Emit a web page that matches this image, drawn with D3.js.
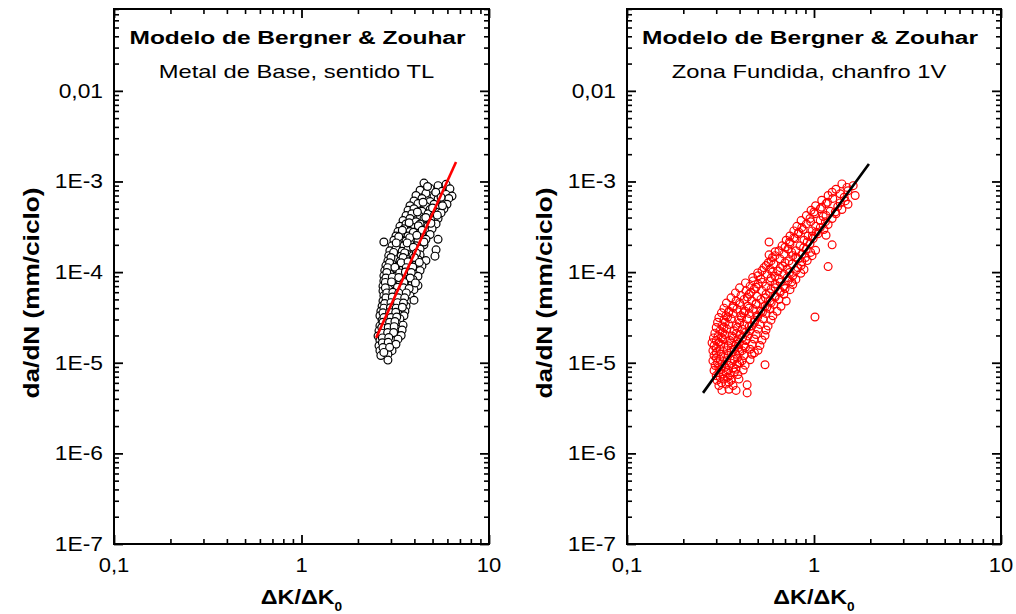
<!DOCTYPE html>
<html>
<head>
<meta charset="utf-8">
<script src="https://cdn.jsdelivr.net/npm/d3@7"></script>
<style>
  body { margin: 0; background: #fff; }
  svg text { font-family: "Liberation Sans", Arial, sans-serif; fill: #000; }
</style>
</head>
<body>
<svg id="chart" width="1016" height="614"></svg>
<script>
// axis ticks and labels
const xTickValues = [0.1, 1, 10];
const xTickLabels = ['0,1', '1', '10'];
const yTickValues = [1e-7, 1e-6, 1e-5, 1e-4, 1e-3, 1e-2];
const yTickLabels = ['1E-7', '1E-6', '1E-5', '1E-4', '1E-3', '0,01'];
const minorMultiples = [2, 3, 4, 5, 6, 7, 8, 9];

// left panel: Metal de Base, sentido TL  [dK/dK0, da/dN]
const baseMetalPoints = [
  [4.50,9.6e-4],[5.35,9.0e-4],[5.90,9.3e-4],
  [4.29,8.0e-4],[4.85,8.4e-4],[5.62,7.8e-4],[6.19,8.3e-4],
  [4.08,7.0e-4],[4.61,7.4e-4],[5.09,6.8e-4],[5.90,7.2e-4],[6.35,6.9e-4],
  [3.98,6.1e-4],[4.39,6.5e-4],[4.85,6.0e-4],[5.35,6.4e-4],[5.75,6.1e-4],[6.10,6.5e-4],
  [3.79,5.4e-4],[4.18,5.7e-4],[4.61,5.3e-4],[5.09,5.6e-4],[5.48,5.2e-4],[5.97,5.6e-4],
  [3.70,4.8e-4],[3.98,5.0e-4],[4.39,4.7e-4],[4.85,4.9e-4],[5.22,4.6e-4],[5.75,5.0e-4],
  [3.61,4.2e-4],[3.88,4.4e-4],[4.29,4.1e-4],[4.73,4.4e-4],[5.09,4.2e-4],[5.55,4.5e-4],
  [3.48,3.7e-4],[3.79,3.9e-4],[4.08,3.6e-4],[4.50,3.9e-4],[4.97,3.7e-4],[5.35,3.9e-4],
  [3.35,3.2e-4],[3.61,3.4e-4],[3.98,3.1e-4],[4.29,3.4e-4],[4.73,3.2e-4],[5.22,3.4e-4],
  [3.27,2.8e-4],[3.52,3.0e-4],[3.79,2.8e-4],[4.18,2.95e-4],[4.61,2.8e-4],[4.97,3.0e-4],
  [3.19,2.5e-4],[3.44,2.65e-4],[3.70,2.5e-4],[3.98,2.65e-4],[4.39,2.5e-4],[4.85,2.6e-4],
  [3.11,2.25e-4],[3.35,2.35e-4],[3.61,2.2e-4],[3.88,2.35e-4],[4.18,2.2e-4],[4.61,2.3e-4],[5.35,2.3e-4],
  [2.75,2.15e-4],
  [3.04,1.95e-4],[3.27,2.05e-4],[3.52,1.95e-4],[3.79,2.05e-4],[4.08,1.95e-4],[4.50,2.0e-4],
  [2.96,1.72e-4],[3.19,1.8e-4],[3.44,1.7e-4],[3.70,1.8e-4],[3.98,1.72e-4],[4.29,1.8e-4],[5.22,1.76e-4],
  [2.92,1.52e-4],[3.15,1.58e-4],[3.40,1.5e-4],[3.65,1.58e-4],[3.93,1.52e-4],[4.29,1.55e-4],[5.15,1.5e-4],
  [2.89,1.33e-4],[3.11,1.4e-4],[3.35,1.32e-4],[3.61,1.4e-4],[3.88,1.33e-4],[4.18,1.38e-4],[4.61,1.34e-4],
  [2.82,1.18e-4],[3.04,1.23e-4],[3.27,1.17e-4],[3.52,1.23e-4],[3.79,1.18e-4],[4.08,1.22e-4],[4.39,1.17e-4],
  [2.78,1.04e-4],[3.00,1.08e-4],[3.23,1.03e-4],[3.48,1.08e-4],[3.75,1.04e-4],[4.03,1.08e-4],[4.29,1.04e-4],
  [2.75,9.1e-5],[2.96,9.5e-5],[3.19,9.0e-5],[3.44,9.5e-5],[3.70,9.1e-5],[3.98,9.5e-5],[4.18,9.0e-5],
  [2.75,8.0e-5],[2.92,8.4e-5],[3.15,8.0e-5],[3.40,8.4e-5],[3.65,8.0e-5],[3.93,8.3e-5],
  [2.72,7.0e-5],[2.89,7.4e-5],[3.11,7.0e-5],[3.35,7.4e-5],[3.61,7.0e-5],[3.88,7.3e-5],[4.18,7.1e-5],
  [2.72,6.2e-5],[2.92,6.5e-5],[3.15,6.2e-5],[3.40,6.5e-5],[3.65,6.2e-5],[3.98,6.4e-5],
  [2.75,5.5e-5],[2.96,5.7e-5],[3.19,5.4e-5],[3.44,5.7e-5],[3.79,5.5e-5],
  [2.72,4.8e-5],[2.92,5.0e-5],[3.15,4.8e-5],[3.40,5.0e-5],[3.65,4.8e-5],[3.98,4.9e-5],
  [2.69,4.2e-5],[2.89,4.4e-5],[3.11,4.2e-5],[3.35,4.4e-5],[3.61,4.2e-5],
  [2.65,3.7e-5],[2.85,3.9e-5],[3.07,3.7e-5],[3.31,3.9e-5],[3.56,3.7e-5],
  [2.62,3.3e-5],[2.82,3.5e-5],[3.04,3.3e-5],[3.27,3.5e-5],[3.52,3.3e-5],
  [2.69,2.95e-5],[2.89,3.05e-5],[3.11,2.95e-5],[3.35,3.05e-5],
  [2.62,2.55e-5],[2.82,2.65e-5],[3.04,2.55e-5],[3.27,2.65e-5],[3.48,2.6e-5],
  [2.59,2.25e-5],[2.78,2.35e-5],[3.00,2.25e-5],[3.23,2.35e-5],[3.44,2.3e-5],
  [2.56,1.97e-5],[2.75,2.05e-5],[2.96,1.97e-5],[3.19,2.05e-5],[3.40,2.0e-5],
  [2.62,1.76e-5],[2.82,1.83e-5],[3.04,1.76e-5],[3.27,1.82e-5],
  [2.59,1.54e-5],[2.78,1.6e-5],[3.00,1.54e-5],[3.19,1.6e-5],
  [2.62,1.36e-5],[2.82,1.4e-5],[3.04,1.36e-5],
  [2.65,1.2e-5],[2.89,1.24e-5],
  [2.89,1.07e-5],
  [4.70,8.8e-4],[5.20,7.6e-4],[5.55,6.7e-4],[4.45,5.9e-4],[5.00,5.1e-4],[5.65,5.4e-4],
  [4.15,4.6e-4],[4.60,4.0e-4],[5.30,4.25e-4],[3.75,3.5e-4],[4.20,3.25e-4],[4.90,3.45e-4],
  [3.45,2.9e-4],[3.95,2.75e-4],[4.40,2.9e-4],[3.30,2.45e-4],[3.78,2.4e-4],[4.12,2.55e-4],
  [4.50,2.15e-4],[3.20,2.1e-4],[3.66,2.1e-4],[3.95,1.88e-4],[3.10,1.65e-4],[3.55,1.63e-4],
  [4.10,1.62e-4],[3.00,1.45e-4],[3.48,1.45e-4],[4.00,1.45e-4],[2.95,1.27e-4],[3.40,1.27e-4],
  [3.70,1.3e-4],[4.25,1.28e-4],[2.88,1.12e-4],[3.15,1.13e-4],[3.62,1.12e-4],[3.92,1.14e-4],
  [2.85,9.9e-5],[3.34,9.8e-5],[3.58,1.0e-4],[3.85,9.9e-5],[2.82,8.6e-5],[3.05,8.8e-5],
  [3.30,8.7e-5],[3.80,8.6e-5],[2.80,7.7e-5],[3.02,7.8e-5],[3.52,7.7e-5],[4.05,7.6e-5],
  [2.80,6.7e-5],[3.25,6.8e-5],[3.50,6.7e-5],[3.75,6.6e-5],[2.85,5.9e-5],[3.07,6.0e-5],
  [3.30,5.9e-5],[3.62,5.9e-5],[2.82,5.2e-5],[3.05,5.3e-5],[3.28,5.2e-5],[3.55,5.2e-5],
  [2.78,4.5e-5],[3.00,4.6e-5],[3.25,4.6e-5],[3.50,4.55e-5],[2.75,4.0e-5],[2.98,4.05e-5],
  [3.20,4.0e-5],[3.45,4.1e-5],[2.72,3.55e-5],[2.95,3.6e-5],[3.18,3.6e-5],[2.75,3.15e-5],
  [3.00,3.15e-5],[3.22,3.2e-5],[2.72,2.8e-5],[2.95,2.8e-5],[3.15,2.85e-5],[2.68,2.45e-5],
  [2.90,2.45e-5],[3.12,2.5e-5],[2.68,2.12e-5],[2.88,2.15e-5],[3.10,2.15e-5],[2.70,1.88e-5],
  [2.92,1.9e-5],[2.70,1.66e-5],[2.90,1.68e-5],[2.72,1.47e-5],[2.95,1.48e-5],[2.75,1.3e-5]
];
const baseMetalFit = [[2.50,1.88e-5],[6.67,1.64e-3]];

// right panel: Zona Fundida, chanfro 1V
const weldPoints = [
  [1.41,9.4e-4],[1.62,9.0e-4],
  [1.31,8.2e-4],[1.52,7.9e-4],
  [1.19,7.0e-4],[1.38,7.3e-4],[1.66,7.0e-4],
  [1.10,6.2e-4],[1.26,6.5e-4],[1.47,6.1e-4],
  [1.02,5.4e-4],[1.16,5.7e-4],[1.34,5.3e-4],[1.52,5.6e-4],
  [0.964,4.8e-4],[1.08,5.0e-4],[1.22,4.7e-4],[1.41,4.9e-4],
  [0.91,4.2e-4],[1.01,4.4e-4],[1.16,4.2e-4],[1.31,4.4e-4],
  [0.853,3.7e-4],[0.952,3.9e-4],[1.08,3.7e-4],[1.25,3.9e-4],
  [0.81,3.2e-4],[0.91,3.4e-4],[1.02,3.2e-4],[1.19,3.35e-4],
  [0.78,2.85e-4],[0.875,2.95e-4],[0.976,2.85e-4],[1.13,2.95e-4],
  [0.744,2.5e-4],[0.821,2.65e-4],[0.929,2.5e-4],[1.05,2.65e-4],[1.16,2.55e-4],
  [0.71,2.25e-4],[0.791,2.35e-4],[0.884,2.25e-4],[0.99,2.35e-4],
  [0.575,2.15e-4],
  [0.675,1.95e-4],[0.744,2.05e-4],[0.842,1.95e-4],[0.952,2.05e-4],[1.25,2.0e-4],
  [0.65,1.72e-4],[0.726,1.8e-4],[0.80,1.72e-4],[0.91,1.8e-4],[1.02,1.74e-4],
  [0.575,1.55e-4],[0.619,1.52e-4],[0.69,1.58e-4],[0.77,1.52e-4],[0.863,1.58e-4],[0.976,1.52e-4],
  [0.589,1.33e-4],[0.658,1.4e-4],[0.735,1.33e-4],[0.821,1.4e-4],[0.92,1.34e-4],
  [0.554,1.18e-4],[0.61,1.23e-4],[0.68,1.17e-4],[0.763,1.23e-4],[0.853,1.18e-4],[1.19,1.15e-4],
  [0.527,1.04e-4],[0.582,1.08e-4],[0.642,1.03e-4],[0.717,1.08e-4],[0.80,1.04e-4],[0.884,1.07e-4],
  [0.502,9.1e-5],[0.561,9.5e-5],[0.619,9.0e-5],[0.69,9.5e-5],[0.77,9.1e-5],
  [0.473,8.0e-5],[0.52,8.4e-5],[0.582,8.0e-5],[0.65,8.4e-5],[0.726,8.0e-5],[0.80,8.3e-5],
  [0.455,7.0e-5],[0.502,7.4e-5],[0.554,7.0e-5],[0.619,7.4e-5],[0.69,7.0e-5],[0.77,7.3e-5],
  [0.433,6.2e-5],[0.478,6.5e-5],[0.527,6.2e-5],[0.589,6.5e-5],[0.658,6.2e-5],[0.744,6.4e-5],
  [0.407,5.5e-5],[0.45,5.7e-5],[0.496,5.4e-5],[0.554,5.7e-5],[0.619,5.5e-5],[0.69,5.7e-5],
  [0.383,4.8e-5],[0.423,5.0e-5],[0.466,4.8e-5],[0.52,5.0e-5],[0.582,4.8e-5],[0.65,5.0e-5],[0.71,4.8e-5],
  [0.369,4.2e-5],[0.402,4.4e-5],[0.444,4.2e-5],[0.49,4.4e-5],[0.547,4.2e-5],[0.61,4.4e-5],[0.666,4.2e-5],
  [0.351,3.7e-5],[0.387,3.9e-5],[0.428,3.7e-5],[0.473,3.9e-5],[0.52,3.7e-5],[0.582,3.9e-5],[0.634,3.7e-5],
  [0.338,3.3e-5],[0.369,3.5e-5],[0.407,3.3e-5],[0.45,3.5e-5],[0.496,3.3e-5],[0.554,3.5e-5],[0.603,3.3e-5],[1.012,3.2e-5],
  [0.33,2.95e-5],[0.36,3.05e-5],[0.397,2.95e-5],[0.439,3.05e-5],[0.484,2.95e-5],[0.534,3.05e-5],[0.589,2.95e-5],
  [0.322,2.55e-5],[0.351,2.65e-5],[0.383,2.55e-5],[0.423,2.65e-5],[0.466,2.55e-5],[0.514,2.65e-5],[0.568,2.55e-5],
  [0.314,2.25e-5],[0.342,2.35e-5],[0.373,2.25e-5],[0.412,2.35e-5],[0.455,2.25e-5],[0.502,2.35e-5],[0.554,2.3e-5],
  [0.307,1.97e-5],[0.334,2.05e-5],[0.364,1.97e-5],[0.402,2.05e-5],[0.444,1.97e-5],[0.49,2.05e-5],[0.547,2.0e-5],
  [0.30,1.76e-5],[0.326,1.83e-5],[0.355,1.76e-5],[0.392,1.83e-5],[0.433,1.76e-5],[0.478,1.83e-5],[0.527,1.78e-5],
  [0.292,1.54e-5],[0.318,1.6e-5],[0.347,1.54e-5],[0.383,1.6e-5],[0.423,1.54e-5],[0.466,1.6e-5],[0.514,1.55e-5],
  [0.288,1.36e-5],[0.314,1.41e-5],[0.342,1.36e-5],[0.373,1.41e-5],[0.412,1.36e-5],[0.455,1.41e-5],[0.502,1.37e-5],
  [0.292,1.2e-5],[0.318,1.24e-5],[0.347,1.2e-5],[0.383,1.24e-5],[0.423,1.2e-5],[0.466,1.24e-5],
  [0.288,1.05e-5],[0.314,1.09e-5],[0.342,1.05e-5],[0.373,1.09e-5],[0.412,1.05e-5],[0.455,1.08e-5],
  [0.296,9.3e-6],[0.322,9.7e-6],[0.351,9.3e-6],[0.387,9.7e-6],[0.428,9.4e-6],[0.547,9.5e-6],
  [0.292,8.2e-6],[0.318,8.5e-6],[0.347,8.2e-6],[0.383,8.5e-6],[0.418,8.3e-6],
  [0.30,7.2e-6],[0.326,7.5e-6],[0.355,7.2e-6],[0.392,7.4e-6],
  [0.303,6.4e-6],[0.33,6.6e-6],[0.36,6.4e-6],[0.397,6.6e-6],
  [0.31,5.6e-6],[0.338,5.8e-6],[0.369,5.6e-6],[0.439,5.7e-6],
  [0.322,4.95e-6],[0.351,5.1e-6],[0.383,4.95e-6],
  [0.439,4.65e-6],
  [1.50,8.6e-4],[1.25,7.6e-4],[1.45,6.7e-4],[1.18,5.9e-4],[1.38,5.8e-4],[1.10,5.2e-4],
  [1.30,4.6e-4],[1.00,4.6e-4],[1.12,4.1e-4],[0.96,3.6e-4],[1.15,3.6e-4],[0.86,3.1e-4],
  [1.08,3.1e-4],[0.83,2.75e-4],[1.03,2.75e-4],[0.78,2.4e-4],[0.98,2.5e-4],[0.74,2.15e-4],
  [0.92,2.15e-4],[0.70,1.88e-4],[0.88,1.86e-4],[0.62,1.68e-4],[0.76,1.65e-4],[0.96,1.65e-4],
  [0.60,1.45e-4],[0.80,1.47e-4],[0.90,1.45e-4],[0.57,1.27e-4],[0.70,1.27e-4],[0.86,1.3e-4],
  [0.54,1.12e-4],[0.66,1.12e-4],[0.82,1.12e-4],[0.50,9.8e-5],[0.60,1.0e-4],[0.74,9.9e-5],
  [0.85,9.7e-5],[0.47,8.7e-5],[0.59,8.6e-5],[0.72,8.7e-5],[0.43,7.6e-5],[0.53,7.7e-5],
  [0.66,7.7e-5],[0.76,7.8e-5],[0.40,6.7e-5],[0.49,6.8e-5],[0.62,6.7e-5],[0.70,6.6e-5],
  [0.38,5.9e-5],[0.46,6.0e-5],[0.58,5.9e-5],[0.66,6.0e-5],[0.36,5.2e-5],[0.44,5.3e-5],
  [0.55,5.2e-5],[0.62,5.3e-5],[0.34,4.55e-5],[0.40,4.6e-5],[0.49,4.5e-5],[0.59,4.6e-5],
  [0.33,4.0e-5],[0.37,4.05e-5],[0.45,4.0e-5],[0.56,4.1e-5],[0.32,3.55e-5],[0.35,3.6e-5],
  [0.42,3.55e-5],[0.53,3.6e-5],[0.31,3.15e-5],[0.345,3.2e-5],[0.41,3.15e-5],[0.50,3.2e-5],
  [0.305,2.8e-5],[0.335,2.8e-5],[0.40,2.75e-5],[0.48,2.8e-5],[0.30,2.45e-5],[0.33,2.45e-5],
  [0.39,2.45e-5],[0.45,2.5e-5],[0.295,2.12e-5],[0.325,2.15e-5],[0.385,2.12e-5],[0.43,2.15e-5],
  [0.29,1.88e-5],[0.32,1.9e-5],[0.37,1.88e-5],[0.415,1.9e-5],[0.285,1.66e-5],[0.31,1.68e-5],
  [0.36,1.66e-5],[0.40,1.68e-5],[0.30,1.47e-5],[0.33,1.48e-5],[0.395,1.47e-5],[0.43,1.48e-5],
  [0.30,1.3e-5],[0.36,1.3e-5],[0.40,1.3e-5],[0.48,1.29e-5],[0.30,1.13e-5],[0.33,1.14e-5],
  [0.39,1.13e-5],[0.305,1.0e-5],[0.36,9.9e-6],[0.40,1.0e-5],[0.31,8.8e-6],[0.335,8.9e-6],
  [0.37,8.8e-6],[0.31,7.8e-6],[0.34,7.8e-6],[0.375,7.9e-6],[0.315,6.9e-6],[0.345,6.9e-6],
  [0.32,6.0e-6],[0.35,6.1e-6]
];
const weldFit = [[0.255,4.65e-6],[0.642,6.6e-5],[1.968,1.56e-3]];

const svg = d3.select('#chart');
const plotTop = 9, plotBottom = 544;
const yMax = 0.08;

// text stretched along its own direction, like the original bitmap font
function stretchText(g, str, x, y, o) {
  return g.append('text')
    .attr('transform', `translate(${x},${y}) rotate(${o.rotate || 0}) scale(${o.sx},1)`)
    .attr('text-anchor', o.anchor || 'middle')
    .attr('font-size', o.size)
    .attr('font-weight', o.weight || 'normal')
    .text(str);
}

function drawPanel(p) {
  const x = d3.scaleLog().domain([0.1, 10]).range([p.left, p.right]);
  const y = d3.scaleLog().domain([1e-7, yMax]).range([plotBottom, plotTop]);
  const g = svg.append('g');

  const minorX = [0.1, 1].flatMap(d => minorMultiples.map(m => d * m));
  const minorY = yTickValues
    .flatMap(d => minorMultiples.map(m => d * m)).filter(v => v <= yMax * 1.0001);

  const axes = [
    [d3.axisBottom(x), `translate(0,${plotBottom})`, xTickValues, minorX],
    [d3.axisTop(x), `translate(0,${plotTop})`, xTickValues, minorX],
    [d3.axisLeft(y), `translate(${p.left},0)`, yTickValues, minorY],
    [d3.axisRight(y), `translate(${p.right},0)`, yTickValues, minorY]
  ];
  axes.forEach(([ax, tr, major, minor]) => {
    g.append('g').attr('transform', tr)
      .call(ax.tickValues(major).tickSize(-9).tickSizeOuter(0).tickFormat(''))
      .call(s => s.select('.domain').remove())
      .selectAll('line').attr('stroke-width', 1.8);
    g.append('g').attr('transform', tr)
      .call(ax.tickValues(minor).tickSize(-5).tickSizeOuter(0).tickFormat(''))
      .call(s => s.select('.domain').remove())
      .selectAll('line').attr('stroke-width', 1.6);
  });

  g.append('rect')
    .attr('x', p.left).attr('y', plotTop)
    .attr('width', p.right - p.left).attr('height', plotBottom - plotTop)
    .attr('fill', 'none').attr('stroke', '#000').attr('stroke-width', 2);

  // tick labels
  xTickValues.forEach((v, i) => {
    stretchText(g, xTickLabels[i], x(v), 572, { size: 20, sx: 1.1 });
  });
  yTickValues.forEach((v, i) => {
    stretchText(g, yTickLabels[i], p.left - 11, y(v) + 7, { size: 20, sx: 1.14, anchor: 'end' });
  });

  // titles
  const cx = (p.left + p.right) / 2;
  stretchText(g, 'Modelo de Bergner & Zouhar', cx - 4, 44, { size: 19, sx: 1.29, weight: 'bold' });
  stretchText(g, p.subtitle, cx - 5, 78, { size: 19, sx: 1.25 });

  // axis titles
  const xl = stretchText(g, 'ΔK/ΔK', cx, 604, { size: 20.5, sx: 1.14, weight: 'bold' });
  xl.append('tspan').attr('font-size', 12).attr('dy', 7).text('0');
  stretchText(g, 'da/dN (mm/ciclo)', p.yLabelX, 293, { size: 22, sx: 1.19, weight: 'bold', rotate: -90 });

  // scatter points
  g.append('g').selectAll('circle')
    .data(p.points)
    .join('circle')
    .attr('cx', d => x(d[0]))
    .attr('cy', d => y(d[1]))
    .attr('r', 3.9)
    .attr('fill', p.pointFill)
    .attr('stroke', p.pointColor)
    .attr('stroke-width', 1.2);

  // model curve
  const line = d3.line().x(d => x(d[0])).y(d => y(d[1])).curve(d3.curveMonotoneX);
  g.append('path')
    .datum(p.fit)
    .attr('d', line)
    .attr('fill', 'none')
    .attr('stroke', p.fitColor)
    .attr('stroke-width', 2.6);
}

drawPanel({
  left: 114, right: 489, yLabelX: 39,
  subtitle: 'Metal de Base, sentido TL',
  points: baseMetalPoints, pointColor: '#000', pointFill: '#fff',
  fit: baseMetalFit, fitColor: '#ff0000'
});
drawPanel({
  left: 627, right: 1001, yLabelX: 552,
  subtitle: 'Zona Fundida, chanfro 1V',
  points: weldPoints, pointColor: '#ff0000', pointFill: 'none',
  fit: weldFit, fitColor: '#000'
});
</script>
</body>
</html>
